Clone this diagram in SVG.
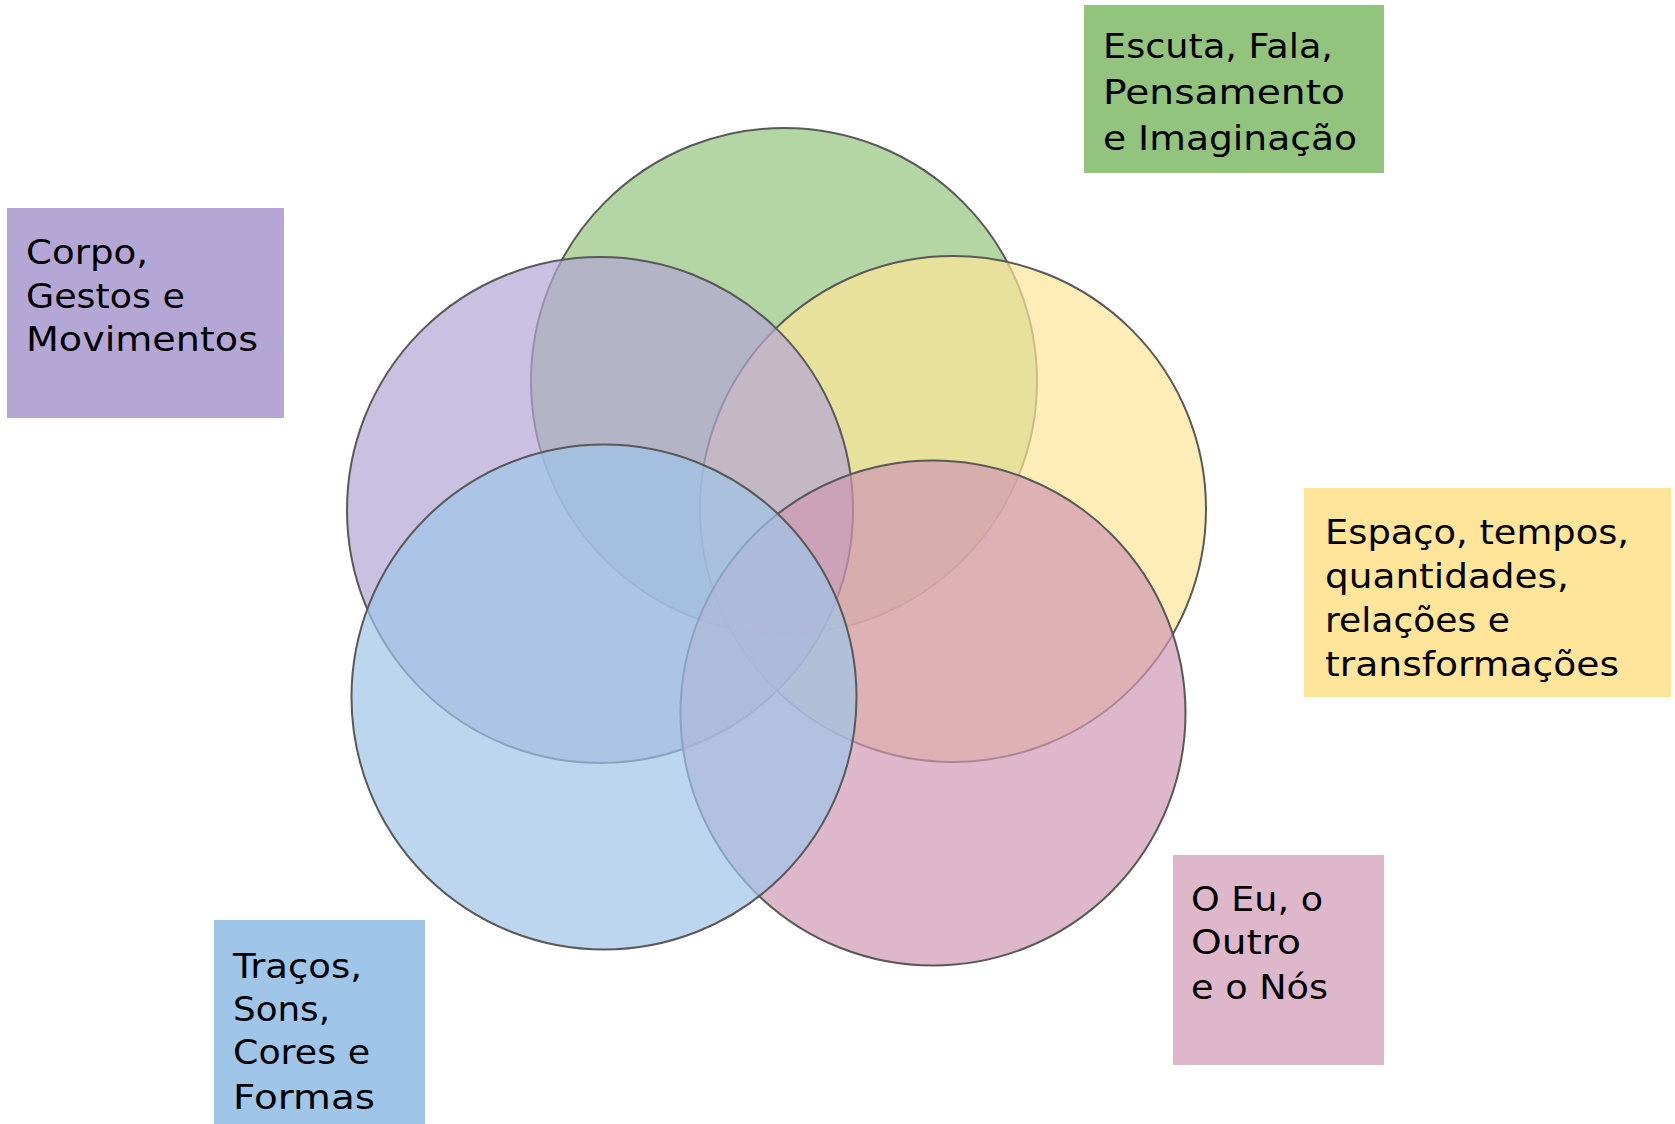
<svg xmlns="http://www.w3.org/2000/svg" width="1675" height="1124" viewBox="0 0 1675 1124">
<style>
.c{stroke:#595959;stroke-width:2;fill-opacity:0.7}
.t{font-family:"DejaVu Sans","Open Sans",sans-serif;font-size:33.5px;fill:#000}
</style>
<rect width="1675" height="1124" fill="#fff"/>
<g id="circles">
<circle id="c-green" class="c" cx="784" cy="381" r="253" fill="#93C47D"/>
<circle id="c-yellow" class="c" cx="953" cy="509" r="253" fill="#FFE599"/>
<circle id="c-purple" class="c" cx="600" cy="510" r="253" fill="#B4A7D6"/>
<circle id="c-pink" class="c" cx="933" cy="713" r="252.5" fill="#D098B3"/>
<circle id="c-blue" class="c" cx="604" cy="697" r="252.5" fill="#9FC5E8"/>
</g>
<g id="connectors"/>
<g id="n-green">
<rect x="1084" y="5" width="300" height="168" fill="#93C47D"/>
<text class="t"><tspan x="1103" y="58" textLength="230" lengthAdjust="spacingAndGlyphs">Escuta, Fala,</tspan><tspan x="1103" y="104" textLength="242" lengthAdjust="spacingAndGlyphs">Pensamento</tspan><tspan x="1103" y="150" textLength="254" lengthAdjust="spacingAndGlyphs">e Imaginação</tspan></text>
</g>
<g id="n-purple">
<rect x="7" y="208" width="277" height="210" fill="#B4A7D6"/>
<text class="t"><tspan x="26" y="264" textLength="122" lengthAdjust="spacingAndGlyphs">Corpo,</tspan><tspan x="26" y="308" textLength="159" lengthAdjust="spacingAndGlyphs">Gestos e</tspan><tspan x="26" y="351" textLength="232" lengthAdjust="spacingAndGlyphs">Movimentos</tspan></text>
</g>
<g id="n-yellow">
<rect x="1304" y="488" width="367" height="209" fill="#FFE599"/>
<text class="t"><tspan x="1325" y="544" textLength="304" lengthAdjust="spacingAndGlyphs">Espaço, tempos,</tspan><tspan x="1325" y="588" textLength="244" lengthAdjust="spacingAndGlyphs">quantidades,</tspan><tspan x="1325" y="632" textLength="185" lengthAdjust="spacingAndGlyphs">relações e</tspan><tspan x="1325" y="676" textLength="294" lengthAdjust="spacingAndGlyphs">transformações</tspan></text>
</g>
<g id="n-pink">
<rect x="1173" y="855" width="211" height="210" fill="#DFB7CB"/>
<text class="t"><tspan x="1191" y="911" textLength="132" lengthAdjust="spacingAndGlyphs">O Eu, o</tspan><tspan x="1191" y="954" textLength="110" lengthAdjust="spacingAndGlyphs">Outro</tspan><tspan x="1191" y="999" textLength="137" lengthAdjust="spacingAndGlyphs">e o Nós</tspan></text>
</g>
<g id="n-blue">
<rect x="214" y="920" width="211" height="204" fill="#9FC5E8"/>
<text class="t"><tspan x="233" y="978" textLength="129" lengthAdjust="spacingAndGlyphs">Traços,</tspan><tspan x="233" y="1021" textLength="97" lengthAdjust="spacingAndGlyphs">Sons,</tspan><tspan x="233" y="1064" textLength="137" lengthAdjust="spacingAndGlyphs">Cores e</tspan><tspan x="233" y="1109" textLength="142" lengthAdjust="spacingAndGlyphs">Formas</tspan></text>
</g>
</svg>
